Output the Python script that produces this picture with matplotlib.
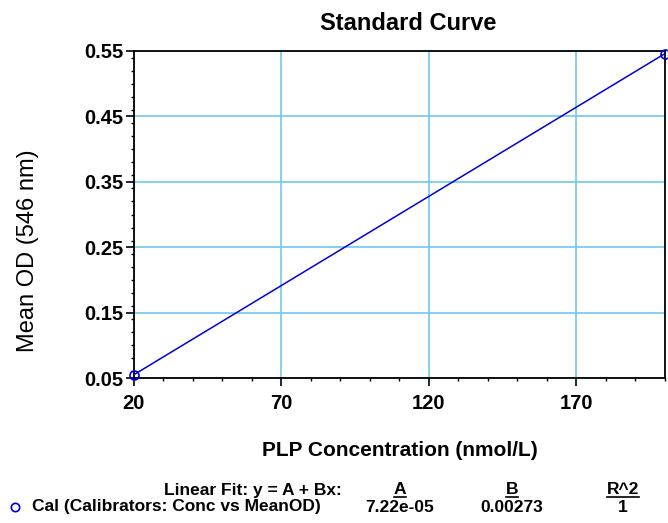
import numpy as np
import matplotlib
matplotlib.use("Agg")
import matplotlib.pyplot as plt
from matplotlib.ticker import MultipleLocator, FixedLocator, FormatStrFormatter
from matplotlib.lines import Line2D

# calibrator data and fit statistics
conc = [20, 200]
mean_od = [0.0547, 0.5461]
fit_labels = ["A", "B", "R^2"]
fit_values = ["7.22e-05", "0.00273", "1"]
fit_a = 7.22e-05
fit_b = 0.00273
x_ticks = [20, 70, 120, 170]
y_ticks = [0.05, 0.15, 0.25, 0.35, 0.45, 0.55]

plt.rcParams['font.family'] = ['Liberation Sans', 'DejaVu Sans']

W, H = 668, 523
fig = plt.figure(figsize=(W / 100, H / 100), dpi=100)
ax = fig.add_axes([133.5 / W, (H - 378) / H, (665 - 133.5) / W, (378 - 51) / H])

blue = '#0000dd'
xs = np.array([conc[0], conc[-1]])
ax.plot(xs, fit_a + fit_b * xs, color=blue, lw=1.1, zorder=3)
ax.plot(conc, mean_od, 'o', mfc='none', mec=blue, ms=6.5, mew=1.2,
        clip_on=False, zorder=4)

ax.set_xlim(20, 200)
ax.set_ylim(0.05, 0.55)
ax.xaxis.set_major_locator(FixedLocator(x_ticks))
ax.xaxis.set_minor_locator(MultipleLocator(10))
ax.yaxis.set_major_locator(FixedLocator(y_ticks))
ax.yaxis.set_minor_locator(MultipleLocator(0.02))
ax.yaxis.set_major_formatter(FormatStrFormatter('%.2f'))
ax.grid(True, which='major', color='#70c8ee', lw=1.2)
ax.set_axisbelow(True)
for s in ax.spines.values():
    s.set_linewidth(1.3)
ax.tick_params(which='major', direction='out', length=5.5, width=1.2,
               labelsize=14.5, top=False, right=False)
ax.tick_params(which='minor', direction='out', length=2.2, width=1.0,
               top=False, right=False)
ax.tick_params(axis='x', pad=6)
ax.tick_params(axis='y', pad=2)
for lab in ax.get_xticklabels() + ax.get_yticklabels():
    lab.set_fontweight('bold')

fig.text(408 / W, 1 - 23 / H, "Standard Curve", ha='center', va='center',
         fontsize=17, fontweight='bold')
fig.text(400 / W, 1 - 451 / H, "PLP Concentration (nmol/L)", ha='center',
         va='center', fontsize=15, fontweight='bold')
fig.text(28 / W, 1 - 251 / H, "Mean OD (546 nm)", ha='center', va='center',
         rotation=90, fontsize=17)

# fit table below the plot
row1, row2 = 1 - 490 / H, 1 - 507 / H
fig.text(342 / W, row1, "Linear Fit: y = A + Bx:", ha='right', va='center',
         fontsize=12.5, fontweight='bold')
col_x = [400, 512, 623]
heads = []
for cx, lab in zip(col_x, fit_labels):
    heads.append(fig.text(cx / W, row1, lab, ha='center', va='center',
                          fontsize=12.5, fontweight='bold'))
for cx, val in zip(col_x, fit_values):
    fig.text(cx / W, row2, val, ha='center', va='center',
             fontsize=12.5, fontweight='bold')
fig.text(32 / W, row2, "Cal (Calibrators: Conc vs MeanOD)", ha='left',
         va='center', fontsize=12.5, fontweight='bold')
fig.lines.append(Line2D([15 / W], [row2], marker='o', mfc='none', mec=blue,
                        ms=6, mew=1.2, transform=fig.transFigure))

fig.canvas.draw()
inv = fig.transFigure.inverted()
for t in heads:
    bb = t.get_window_extent()
    (x0, y0), (x1, _) = inv.transform([[bb.x0, bb.y0], [bb.x1, bb.y1]])
    fig.lines.append(Line2D([x0, x1], [y0 + 1 / H, y0 + 1 / H], color='black',
                            lw=1.2, transform=fig.transFigure))

fig.savefig('out.png', dpi=100)
